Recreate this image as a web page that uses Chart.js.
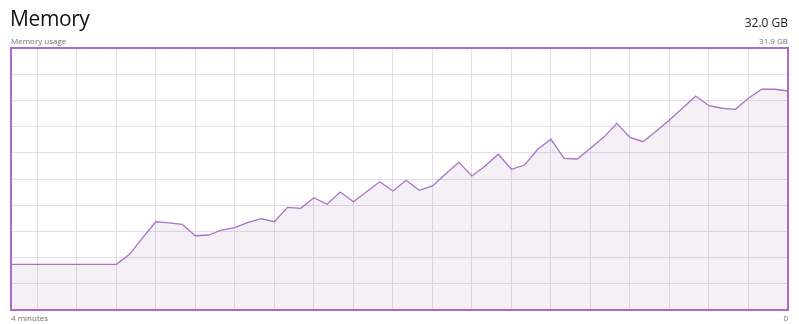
<!DOCTYPE html>
<html>
<head>
<meta charset="utf-8">
<script src="https://cdn.jsdelivr.net/npm/chart.js@4/dist/chart.umd.min.js"></script>
<style>
  html, body { margin: 0; padding: 0; background: #fff; }
  #wrap { position: relative; width: 799px; height: 324px; overflow: hidden; font-family: 'Open Sans', 'Noto Sans', sans-serif; }
  #chart { position: absolute; left: 0; top: 0; }
  .lbl { position: absolute; white-space: nowrap; color: #6f6f6f; font-size: 8px; line-height: 1; }
  #title { position: absolute; left: 10px; top: 8px; font-size: 21px; letter-spacing: -0.4px; line-height: 1; color: #111; font-weight: 400; }
  #total { position: absolute; right: 11px; top: 17px; font-size: 12px; line-height: 1; color: #222; }
</style>
</head>
<body>
<div id="wrap">
  <canvas id="chart" width="799" height="324"></canvas>
  <div id="title">Memory</div>
  <div id="total">32.0 GB</div>
  <div class="lbl" style="left:11px; top:37px;">Memory usage</div>
  <div class="lbl" style="right:11px; top:37px;">31.9 GB</div>
  <div class="lbl" style="left:11px; top:314px;">4 minutes</div>
  <div class="lbl" style="right:11px; top:314px;">0</div>
</div>
<script>
  'use strict';

  // samples: 60 points over 4 minutes, oldest first (GB in use)
  var memUsed = [
    5.58, 5.58, 5.58, 5.58, 5.58, 5.58, 5.58, 5.58, 5.58, 6.80,
    8.83, 10.78, 10.63, 10.47, 9.07, 9.16, 9.77, 10.05, 10.71, 11.15,
    10.78, 12.54, 12.42, 13.72, 12.91, 14.41, 13.23, 14.45, 15.67, 14.53,
    15.84, 14.62, 15.15, 16.61, 18.04, 16.37, 17.59, 19.02, 17.19, 17.71,
    19.63, 20.85, 18.53, 18.44, 19.75, 21.09, 22.80, 21.09, 20.56, 21.86,
    23.21, 24.67, 26.14, 24.95, 24.64, 24.51, 25.86, 26.96, 26.96, 26.75
  ];
  var sampleIdx = memUsed.map(function(_, i) { return i; });
  var gridX = [2, 5, 8, 11, 14, 17, 20, 23, 26, 29, 32, 35, 38, 41, 44, 47, 50, 53, 56, 59];
  var gridY = [0, 3.2, 6.4, 9.6, 12.8, 16, 19.2, 22.4, 25.6, 28.8, 32];
  var memMax = 32;

  var colors = {
    border: '#b068cc',
    line: '#a873c2',
    fill: 'rgba(110, 70, 140, 0.08)',
    grid: '#e8dcec'
  };

  var frame = {
    id: 'frame',
    afterDraw: function(chart) {
      var a = chart.chartArea, ctx = chart.ctx;
      ctx.save();
      ctx.strokeStyle = colors.border;
      ctx.lineWidth = 2;
      ctx.strokeRect(a.left, a.top, a.right - a.left, a.bottom - a.top);
      ctx.restore();
    }
  };

  function fixedTicks(list) {
    return function(axis) { axis.ticks = list.map(function(v) { return { value: v }; }); };
  }

  new Chart(document.getElementById('chart').getContext('2d'), {
    type: 'line',
    data: {
      datasets: [{
        data: sampleIdx.map(function(x, i) { return { x: x, y: memUsed[i] }; }),
        borderColor: colors.line,
        backgroundColor: colors.fill,
        borderWidth: 1.3,
        pointRadius: 0,
        tension: 0,
        fill: 'origin'
      }]
    },
    options: {
      responsive: false,
      animation: false,
      events: [],
      layout: { padding: { left: 11, right: 11, top: 48, bottom: 14 } },
      plugins: { legend: { display: false }, tooltip: { enabled: false } },
      scales: {
        x: {
          type: 'linear', min: 0, max: 59,
          afterBuildTicks: fixedTicks(gridX),
          grid: { color: colors.grid, lineWidth: 1, drawTicks: false },
          border: { display: false },
          ticks: { display: false }
        },
        y: {
          min: 0, max: memMax,
          afterBuildTicks: fixedTicks(gridY),
          grid: { color: colors.grid, lineWidth: 1, drawTicks: false },
          border: { display: false },
          ticks: { display: false }
        }
      }
    },
    plugins: [frame]
  });
</script>
</body>
</html>
